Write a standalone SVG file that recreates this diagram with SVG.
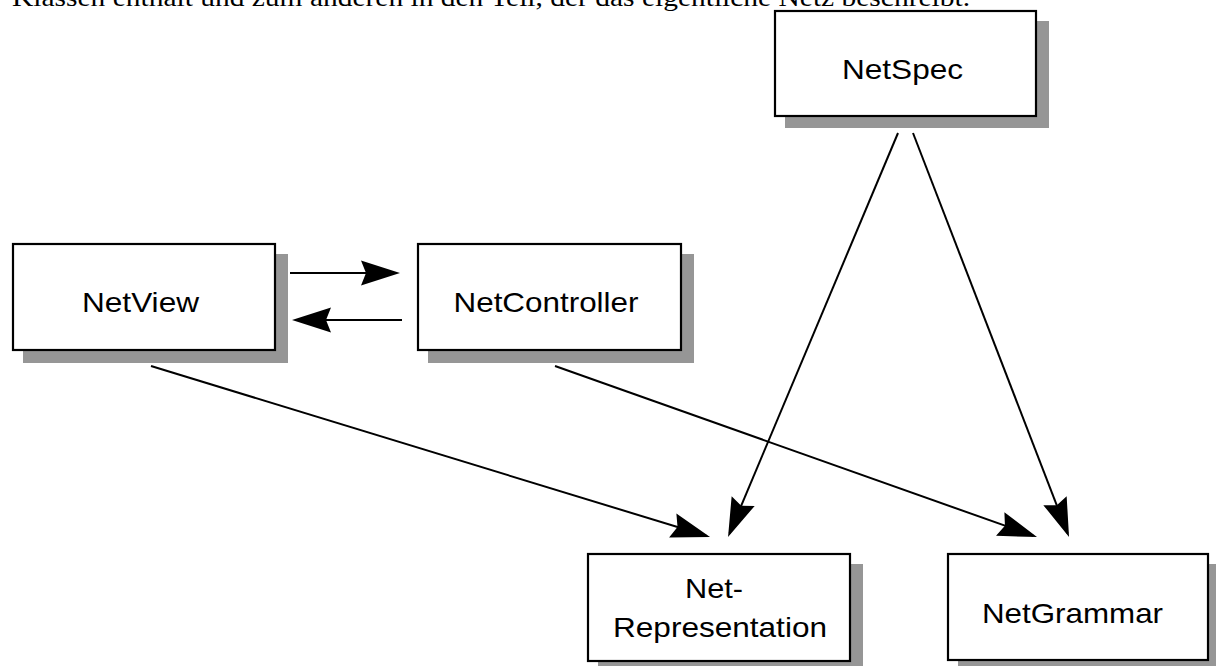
<svg xmlns="http://www.w3.org/2000/svg" width="1216" height="666" viewBox="0 0 1216 666">
  <style>
    .box { fill: #ffffff; stroke: #000000; stroke-width: 2.2; }
    .shadow { fill: #969696; }
    .label { font-family: "Liberation Sans", Arial, sans-serif; font-size: 28px; fill: #000000; text-anchor: middle; }
    .body { font-family: "Liberation Serif", "Times New Roman", serif; font-size: 25px; fill: #000000; }
    .edge { fill: none; stroke: #000000; stroke-width: 2; marker-end: url(#head); }
  </style>
  <defs>
    <!-- solid arrowhead with a slightly notched back; tip sits 4px past the line end -->
    <marker id="head" markerUnits="userSpaceOnUse" viewBox="-40 -14 46 28" markerWidth="46" markerHeight="28" refX="0" refY="0" orient="auto" overflow="visible">
      <path d="M4,0 L-35,-12.5 L-30,0 L-35,12.5 Z" fill="#000000"/>
    </marker>
  </defs>

  <rect width="1216" height="666" fill="#ffffff"/>

  <!-- running text line from the page above the figure -->
  <text class="body" x="12" y="6" textLength="958" lengthAdjust="spacingAndGlyphs">Klassen enthält und zum anderen in den Teil, der das eigentliche Netz beschreibt.</text>

  <g id="connectors">
    <path class="edge" d="M290,273 L396,273"/>
    <path class="edge" d="M402,320 L296,320"/>
    <path class="edge" d="M151,366 L706.2,535.8"/>
    <path class="edge" d="M898,133 L729.6,533.3"/>
    <path class="edge" d="M913,133 L1067.6,533.3"/>
    <path class="edge" d="M555,366 L1033.2,535.7"/>
  </g>

  <g id="NetSpec">
    <rect class="shadow" x="785" y="21" width="264" height="107"/>
    <rect class="box" x="775" y="11" width="261" height="105"/>
    <text class="label" x="902.5" y="79" textLength="121" lengthAdjust="spacingAndGlyphs">NetSpec</text>
  </g>

  <g id="NetView">
    <rect class="shadow" x="23" y="254" width="265" height="109"/>
    <rect class="box" x="13" y="244" width="262" height="106"/>
    <text class="label" x="140.5" y="312" textLength="117" lengthAdjust="spacingAndGlyphs">NetView</text>
  </g>

  <g id="NetController">
    <rect class="shadow" x="428" y="254" width="266" height="109"/>
    <rect class="box" x="418" y="244" width="263" height="106"/>
    <text class="label" x="546" y="312" textLength="185" lengthAdjust="spacingAndGlyphs">NetController</text>
  </g>

  <g id="NetRepresentation">
    <rect class="shadow" x="598" y="564" width="265" height="110"/>
    <rect class="box" x="588" y="554" width="262" height="107"/>
    <text class="label" x="714" y="598" textLength="58" lengthAdjust="spacingAndGlyphs">Net-</text>
    <text class="label" x="720" y="637" textLength="214" lengthAdjust="spacingAndGlyphs">Representation</text>
  </g>

  <g id="NetGrammar">
    <rect class="shadow" x="958" y="564" width="263" height="109"/>
    <rect class="box" x="948" y="554" width="260" height="106"/>
    <text class="label" x="1072.5" y="623" textLength="181" lengthAdjust="spacingAndGlyphs">NetGrammar</text>
  </g>
</svg>
